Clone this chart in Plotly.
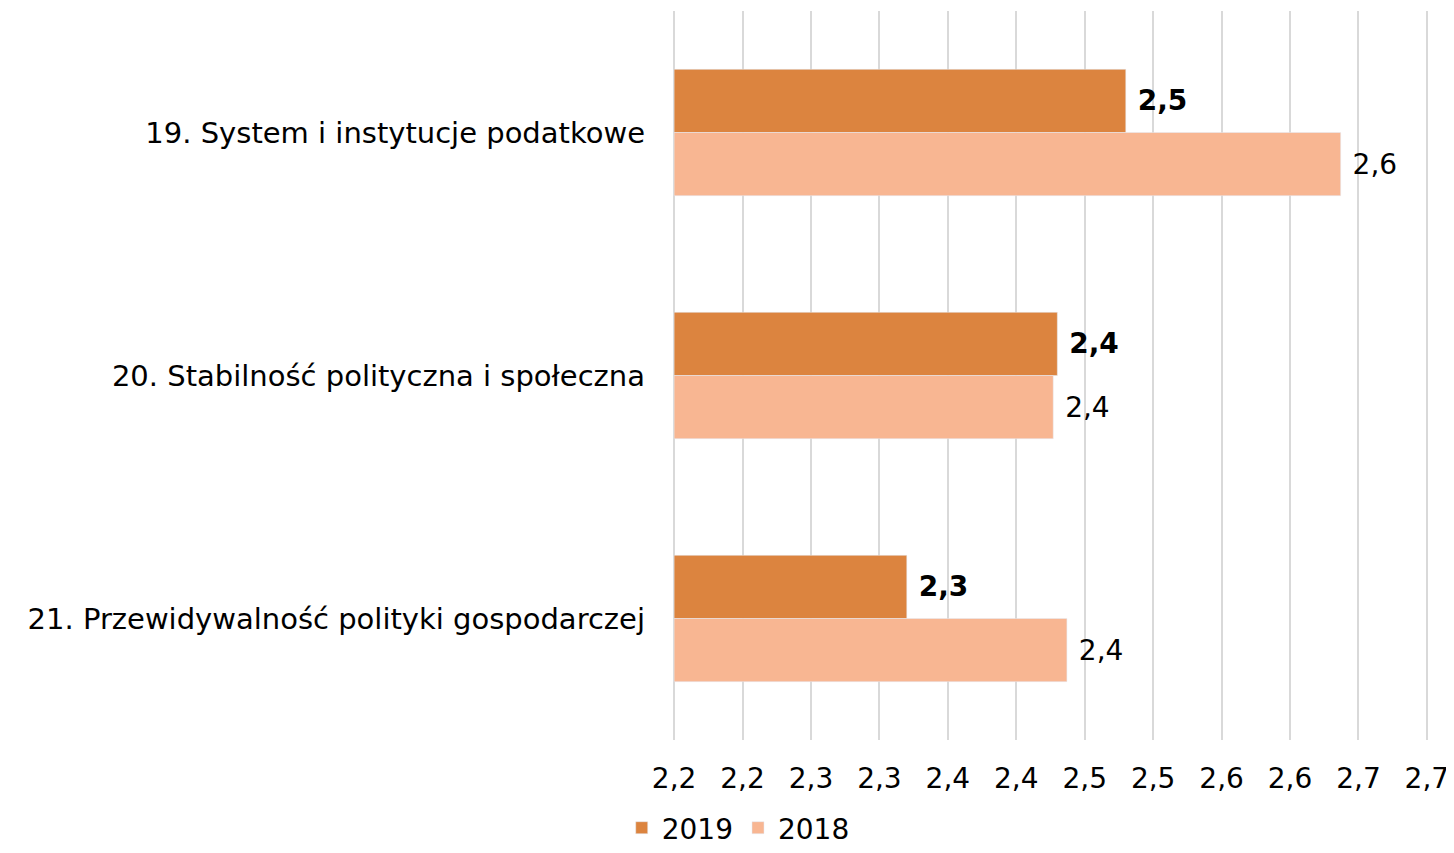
import plotly.graph_objects as go

categories = [
    "19. System i instytucje podatkowe",
    "20. Stabilność polityczna i społeczna",
    "21. Przewidywalność polityki gospodarczej",
]
values_2019 = [2.48, 2.43, 2.32]
values_2018 = [2.637, 2.427, 2.437]
labels_2019 = ["2,5", "2,4", "2,3"]
labels_2018 = ["2,6", "2,4", "2,4"]
tick_vals = [2.15, 2.20, 2.25, 2.30, 2.35, 2.40, 2.45, 2.50, 2.55, 2.60, 2.65, 2.70]
tick_text = ["2,2", "2,2", "2,3", "2,3", "2,4", "2,4", "2,5", "2,5", "2,6", "2,6", "2,7", "2,7"]
axis_min = 2.15

FONT = "DejaVu Sans"
SIZE = 28

fig = go.Figure()
# bars start at the axis minimum, so lengths are value minus base
fig.add_trace(
    go.Bar(y=categories, x=[v - axis_min for v in values_2019], base=axis_min,
           orientation="h", name="2019",
           marker={"color": "#DC843F"}, text=labels_2019,
           texttemplate="\u00a0<b>%{text}</b>", textposition="outside",
           textfont={"size": SIZE, "color": "#000000", "family": FONT})
)
fig.add_trace(
    go.Bar(y=categories, x=[v - axis_min for v in values_2018], base=axis_min,
           orientation="h", name="2018",
           marker={"color": "#F8B692"}, text=labels_2018,
           texttemplate="\u00a0%{text}", textposition="outside",
           textfont={"size": SIZE, "color": "#000000", "family": FONT})
)
fig.update_traces(cliponaxis=False)
# page body adds an 8px offset, so the figure is sized and placed to compensate
fig.update_layout(
    width=1446, height=845,
    barmode="group", bargap=0.48, bargroupgap=0,
    plot_bgcolor="white", paper_bgcolor="white",
    font={"family": FONT, "size": SIZE, "color": "#000000"},
    margin={"l": 662, "r": 23, "t": 3, "b": 113, "autoexpand": False},
    legend={"orientation": "h", "xref": "container", "yref": "container",
            "x": 0.505, "xanchor": "center", "y": -0.012, "yanchor": "bottom",
            "font": {"size": SIZE}, "traceorder": "normal"},
    showlegend=True,
)
fig.update_xaxes(range=[2.147, 2.703], tickvals=tick_vals, ticktext=tick_text,
                 showgrid=True, gridcolor="#D9D9D9", gridwidth=2,
                 zeroline=False, showline=False, ticks="", automargin=False,
                 ticklabelstandoff=19, tickfont={"size": SIZE})
fig.update_yaxes(autorange="reversed", showgrid=False, showline=False,
                 ticks="", automargin=False,
                 ticklabelstandoff=24, tickfont={"size": 29})
fig.write_html("out.html")
